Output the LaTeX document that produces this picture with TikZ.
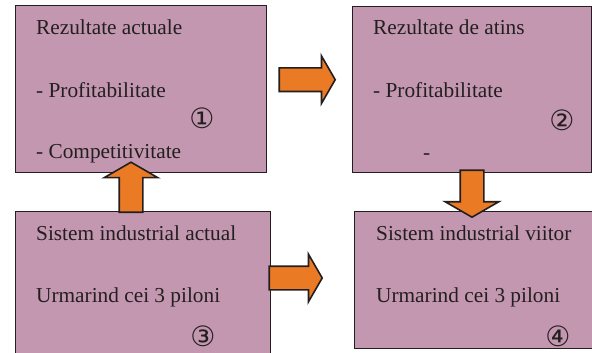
\documentclass[tikz,border=0pt]{standalone}
\usepackage{fontspec}
\setmainfont{Liberation Serif}
\newfontfamily\serifface{Liberation Serif}
\newfontfamily\circfont{DejaVu Sans}
\usetikzlibrary{calc,positioning,shapes.arrows}
\definecolor{boxpink}{RGB}{195,151,176}
\definecolor{arroworange}{RGB}{234,122,36}
\definecolor{edgegray}{RGB}{35,31,32}

\begin{document}
\begin{tikzpicture}[x=1pt,y=-1pt,
  box/.style={draw=edgegray, line width=1.4pt, fill=boxpink, rectangle, inner sep=0pt, anchor=north west},
  txt/.style={anchor=base west, inner sep=0pt, font=\serifface\fontsize{21.3}{24}\selectfont, text=edgegray},
  num/.style={inner sep=0pt, font=\circfont\fontsize{28}{29}\selectfont, text=edgegray},
  fatarrow/.style={single arrow, draw=edgegray, line width=1.6pt, fill=arroworange,
    inner xsep=0pt, inner ysep=11pt, single arrow head extend=12pt,
    single arrow tip angle=120, anchor=tail},
  fatarrowv/.style={fatarrow, inner xsep=11pt, inner ysep=0pt, single arrow head extend=15pt}]
  \useasboundingbox (0,0) rectangle (592,353);

  % Boxes
  \node[box, minimum width=251pt, minimum height=167pt] (r1) at (15,5) {};
  \node[box, minimum width=238.5pt, minimum height=166pt] (r2) at (352,6) {};
  \node[box, minimum width=255pt, minimum height=160pt] (r3) at (15,211) {};
  \node[box, minimum width=250pt, minimum height=137pt] (r4) at (354,211) {};

  % Texts
  \node[txt] (t1a) at ($(r1.north west)+(21,30)$) {Rezultate actuale};
  \node[txt] (t1b) at ($(r1.north west)+(21,92)$) {- Profitabilitate};
  \node[txt] (t1c) at ($(r1.north west)+(21,153)$) {- Competitivitate};
  \node[num] (n1) at ($(r1.north west)+(187,113)$) {①};

  \node[txt] (t2a) at ($(r2.north west)+(21,29)$) {Rezultate de atins};
  \node[txt] (t2b) at ($(r2.north west)+(21,91)$) {- Profitabilitate};
  \node[txt] (t2c) at ($(r2.north west)+(71,153)$) {-};
  \node[num] (n2) at ($(r2.north west)+(210,114)$) {②};

  \node[txt] (t3a) at ($(r3.north west)+(21,29)$) {Sistem industrial actual};
  \node[txt] (t3b) at ($(r3.north west)+(21,91)$) {Urmarind cei 3 piloni};
  \node[num] (n3) at ($(r3.north west)+(188,125)$) {③};

  \node[txt] (t4a) at ($(r4.north west)+(22,29)$) {Sistem industrial viitor};
  \node[txt] (t4b) at ($(r4.north west)+(22,91)$) {Urmarind cei 3 piloni};
  \node[num] (n4) at ($(r4.north west)+(204,125)$) {④};

  % Block arrows
  \node[fatarrow, minimum height=56pt] (a12) at ($(r1.east)+(11,-9.5)$) {};
  \node[fatarrowv, minimum height=50pt, shape border rotate=90] (a31) at ($(r3.north west)+(116,2)$) {};
  \node[fatarrowv, minimum height=47pt, shape border rotate=270] (a24) at ($(r2.south west)+(120,-4)$) {};
  \node[fatarrow, minimum height=53pt] (a34) at ($(r3.north east)+(-3,67)$) {};
\end{tikzpicture}
\end{document}
